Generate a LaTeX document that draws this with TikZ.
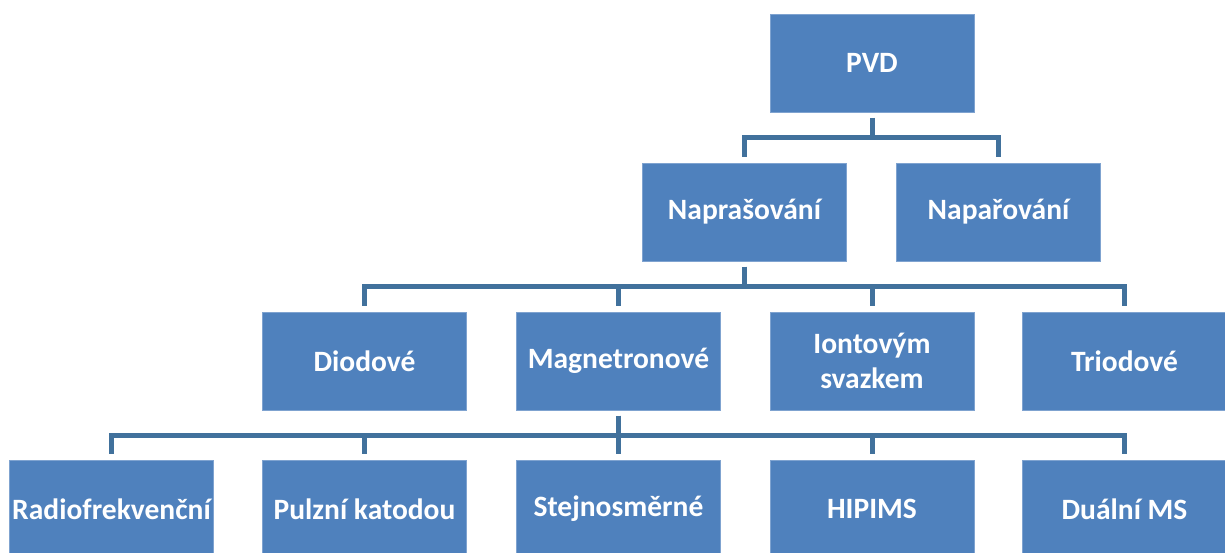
\documentclass[tikz,border=0pt]{standalone}
\usepackage{fontspec}
\setmainfont{Carlito}
\usetikzlibrary{positioning,calc}

\definecolor{boxblue}{HTML}{4F81BD}
\definecolor{boxedge}{HTML}{7FA3D0}
\definecolor{linkblue}{HTML}{41719C}

\begin{document}
\begin{tikzpicture}[
    x=0.02cm, y=-0.02cm,
    box/.style={draw=boxedge, line width=0.4pt, fill=boxblue, text=white, minimum width=4.08cm, minimum height=1.96cm, inner sep=0pt, outer sep=0pt, align=center, font=\fontsize{16.8}{20}\selectfont\bfseries},
    conn/.style={draw=linkblue, line width=0.1cm, shorten <=0.12cm, shorten >=0.12cm}
]
\useasboundingbox (0,0) rectangle (1225,552);

% top
\node[box] (pvd) at (872,63) {PVD};

% second level
\node[box] (nasp) at (744.5,212) {Naprašování};
\node[box] (napar) at (998.5,212) {Napařování};

% sputtering types
\node[box] (diod) at (364.5,361) {Diodové};
\node[box] (magn) at (618.5,361) {Magnetronové};
\node[box] (iont) at (872,361) {Iontovým\\svazkem};
\node[box] (triod) at (1124.5,361) {Triodové};

% magnetron types
\node[box] (radio) at (111.5,509) {Radiofrekvenční};
\node[box] (pulz) at (364.5,509) {Pulzní katodou};
\node[box] (stejn) at (618.5,509) {Stejnosměrné};
\node[box] (hipims) at (872,509) {HIPIMS};
\node[box] (dual) at (1124.5,509) {Duální MS};

\draw[conn] (pvd.south) -- ++(0,25.5) -| (nasp.north);
\draw[conn] (pvd.south) -- ++(0,25.5) -| (napar.north);

\draw[conn] (nasp.south) -- ++(0,26) -| (diod.north);
\draw[conn] (nasp.south) -- ++(0,26) -| (magn.north);
\draw[conn] (nasp.south) -- ++(0,26) -| (iont.north);
\draw[conn] (nasp.south) -- ++(0,26) -| (triod.north);

\draw[conn] (magn.south) -- ++(0,25.5) -| (radio.north);
\draw[conn] (magn.south) -- ++(0,25.5) -| (pulz.north);
\draw[conn] (magn.south) -- ++(0,25.5) -| (stejn.north);
\draw[conn] (magn.south) -- ++(0,25.5) -| (hipims.north);
\draw[conn] (magn.south) -- ++(0,25.5) -| (dual.north);
\end{tikzpicture}
\end{document}
